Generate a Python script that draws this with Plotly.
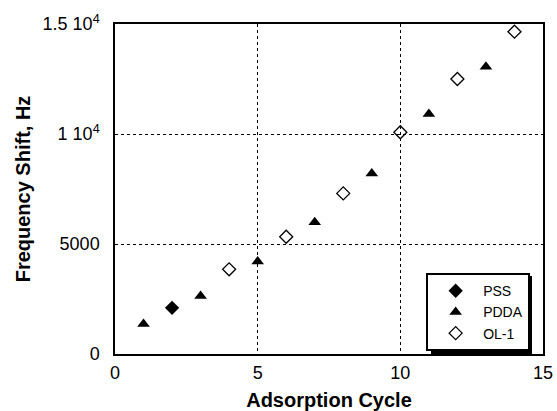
import plotly.graph_objects as go

pss_x = [2]
pss_y = [2100]
pdda_x = [1, 3, 5, 7, 9, 11, 13]
pdda_y = [1360, 2640, 4200, 5990, 8210, 10910, 13060]
ol1_x = [4, 6, 8, 10, 12, 14]
ol1_y = [3850, 5330, 7300, 10080, 12500, 14650]

y_tickvals = [0, 5000, 10000, 15000]
y_ticktext = ["0", "5000", "1 10<sup>4</sup>", "1.5 10<sup>4</sup>"]
x_tickvals = [0, 5, 10, 15]

fig = go.Figure()
fig.add_trace(go.Scatter(x=pss_x, y=pss_y, mode="markers", name="PSS",
                         marker=dict(symbol="diamond", size=11, color="black")))
fig.add_trace(go.Scatter(x=pdda_x, y=pdda_y, mode="markers", name="PDDA",
                         marker=dict(symbol="triangle-up", size=11, color="black")))
fig.add_trace(go.Scatter(x=ol1_x, y=ol1_y, mode="markers", name="OL-1",
                         marker=dict(symbol="diamond-open", size=10, color="black",
                                     line=dict(width=1.3))))

font_family = "Liberation Sans, Arial, sans-serif"

# legend drop shadow
fig.add_shape(type="rect", xref="paper", yref="paper",
              x0=0.7383, x1=0.9743, y0=0.0, y1=0.236,
              fillcolor="black", line=dict(width=0), layer="above")

fig.update_layout(
    width=557, height=411,
    margin=dict(l=115, r=14, t=24, b=57, autoexpand=False),
    paper_bgcolor="white", plot_bgcolor="white",
    font=dict(family=font_family, color="black"),
    showlegend=True,
    legend=dict(x=0.727, y=0.245, xanchor="left", yanchor="top",
                bgcolor="white", bordercolor="black", borderwidth=2,
                font=dict(size=14, family=font_family), itemwidth=45,
                tracegroupgap=0),
    xaxis=dict(range=[0, 15], tickvals=x_tickvals, showline=True, mirror=True,
               linecolor="black", linewidth=1.5, showgrid=True, gridcolor="black",
               griddash="dot", gridwidth=1, zeroline=False, ticks="", automargin=False,
               tickfont=dict(size=18), ticklabelstandoff=2,
               title=dict(text="<b>Adsorption Cycle</b>", font=dict(size=20), standoff=12)),
    yaxis=dict(range=[0, 15000], tickvals=y_tickvals, ticktext=y_ticktext, automargin=False,
               showline=True, mirror=True, linecolor="black", linewidth=1.5,
               showgrid=True, gridcolor="black", griddash="dot", gridwidth=1,
               zeroline=False, ticks="", tickfont=dict(size=18), ticklabelstandoff=10,
               title=dict(text="<b>Frequency Shift, Hz</b>", font=dict(size=20), standoff=7)),
)

fig.write_html("out.html")
